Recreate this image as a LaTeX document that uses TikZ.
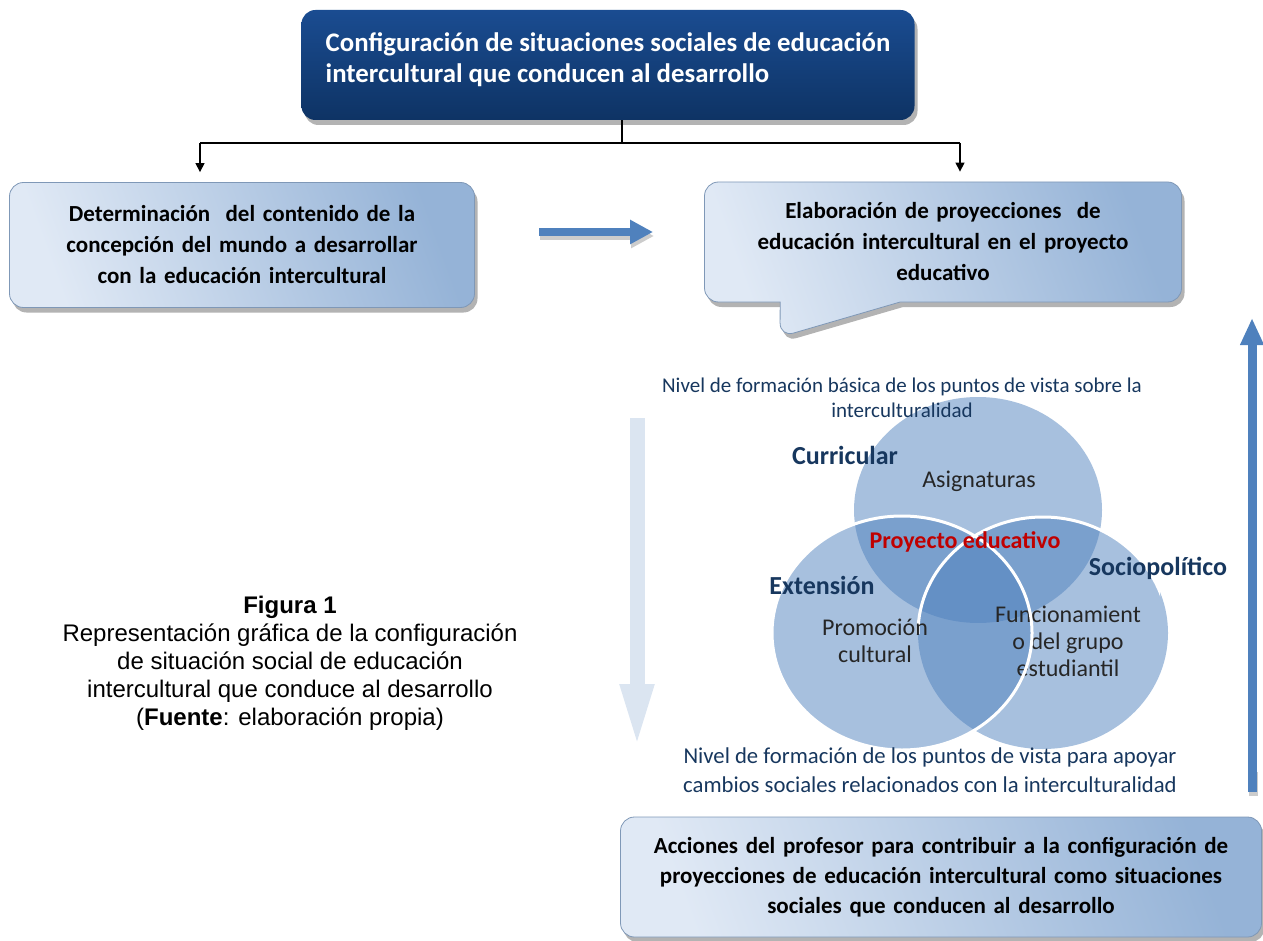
\documentclass[tikz,border=0pt]{standalone}
\usepackage{fontspec}
\setmainfont{Carlito}
\newfontfamily\arialfont{Liberation Sans}
\usetikzlibrary{arrows.meta,shapes.callouts,shadows}

\definecolor{navytext}{RGB}{23,55,94}
\definecolor{accent}{RGB}{79,129,189}
\definecolor{paleblue}{RGB}{224,233,245}
\definecolor{midblue}{RGB}{149,179,215}
\definecolor{deepblue}{RGB}{26,76,145}
\definecolor{darkblue}{RGB}{14,51,100}
\definecolor{fadedblue}{RGB}{219,229,241}
\definecolor{projred}{RGB}{192,0,0}
\definecolor{inktext}{RGB}{38,38,38}

\tikzset{
  boxshadow/.style={drop shadow={shadow xshift=3pt, shadow yshift=-5pt, fill=black!40, opacity=0.75}},
  darkbox/.style={rounded corners=14pt, top color=deepblue, bottom color=darkblue, text=white,
    boxshadow, font=\bfseries\fontsize{26.8}{31}\selectfont, align=left},
  lightbox/.style={rounded corners=14pt, draw=midblue!85!black, line width=0.8pt,
    top color=midblue, bottom color=paleblue, shading angle=-70,
    boxshadow, font=\bfseries\fontsize{23}{31}\selectfont, align=center},
  link/.style={line width=1.3pt, black},
  venncircle/.style={fill=accent, fill opacity=0.5},
  vennedge/.style={white, line width=3pt},
  venntitle/.style={text=navytext, font=\bfseries\fontsize{26}{30}\selectfont},
  venntxt/.style={text=inktext, font=\fontsize{24}{27}\selectfont, align=center},
  leveltxt/.style={text=navytext, font=\fontsize{21}{25}\selectfont, align=center},
}

\begin{document}
\begin{tikzpicture}[x=1pt, y=-1pt]
\useasboundingbox (0,0) rectangle (1263,941);

% boxes
\node[darkbox, minimum width=613pt, minimum height=110pt] (conf) at (608,65)
  {Configuración de situaciones sociales de educación\\intercultural que conducen al desarrollo\\[-16pt]\mbox{}};
\node[lightbox, minimum width=465pt, minimum height=125pt, text width=440pt] (det) at (242,245)
  {Determinación\ \ del contenido de la\\concepción del mundo a desarrollar\\con la educación intercultural};
\node[lightbox, rectangle callout, callout absolute pointer={(780,337)}, callout pointer width=120pt,
  minimum width=477pt, minimum height=120pt, text width=450pt] (elab) at (943,242)
  {Elaboración de proyecciones\ \ de\\educación intercultural en el proyecto\\educativo};
\node[lightbox, minimum width=641pt, minimum height=120pt, text width=615pt,
  font=\bfseries\fontsize{23}{30}\selectfont] (acc) at (941,877)
  {Acciones del profesor para contribuir a la configuración de\\proyecciones de educación intercultural como situaciones\\sociales que conducen al desarrollo};

% tree connector
\coordinate (split) at (622,143);
\coordinate (ldrop) at (200,143);
\coordinate (rdrop) at (960,143);
\draw[link] (conf.south -| split) -- (split);
\draw[link] (ldrop) -- (rdrop);
\draw[link, -{Triangle[width=9pt,length=9pt]}, shorten >=10pt] (ldrop) -- (ldrop |- det.north);
\draw[link, -{Triangle[width=9pt,length=9pt]}, shorten >=10pt] (rdrop) -- (rdrop |- elab.north);

% block arrows
\coordinate (fwdstart) at (539,232);
\coordinate (fwdend) at (653,232);
\draw[line width=8pt, black!20, -{Triangle[width=23pt,length=23pt]}] ([shift={(1,4)}]fwdstart) -- ([shift={(1,4)}]fwdend);
\draw[line width=8pt, accent, -{Triangle[width=23pt,length=23pt]}] (fwdstart) -- (fwdend);

\coordinate (downstart) at (637,418);
\coordinate (downend) at (637,750);
\draw[line width=15pt, fadedblue, -{Triangle[width=30pt,length=66pt]}] (downstart) -- (downend);

\coordinate (upstart) at (1252,792);
\coordinate (upend) at (1252,318);
\draw[line width=9pt, black!20] ([shift={(1,4)}]upstart) -- ([shift={(1,-20)}]upstart);
\draw[line width=9pt, accent, -{Triangle[width=22pt,length=27pt]}] (upstart) -- (upend);

% venn
\fill[venncircle] (978,510) ellipse [x radius=124pt, y radius=113pt];
\fill[venncircle] (1043,633) ellipse [x radius=125pt, y radius=116pt];
\fill[venncircle] (902,633) ellipse [x radius=130pt, y radius=117pt];
\node[venntxt] (func) at (1068,641) {Funcionamient\\o del grupo\\estudiantil};
\draw[vennedge] (902,633) ellipse [x radius=130pt, y radius=117pt];
\begin{scope}
\clip (900,380) rectangle (1160,633);
\draw[vennedge] (1043,633) ellipse [x radius=125pt, y radius=116pt];
\end{scope}

\node[leveltxt] (lvltop) at (902,398) {Nivel de formación básica de los puntos de vista sobre la\\interculturalidad};
\node[venntitle] (curr) at (845,455) {Curricular};
\node[venntxt] (asig) at (979,481) {Asignaturas};
\node[text=projred, font=\bfseries\fontsize{24}{28}\selectfont] (proj) at (965,542) {Proyecto educativo};
\node[venntitle] (ext) at (822,585) {Extensión};
\node[venntitle] (socio) at (1158,568) {Sociopolítico};
\node[venntxt] (promo) at (875,641) {Promoción\\cultural};
\node[leveltxt, font=\fontsize{22.7}{29}\selectfont] (lvlbot) at (930,770) {Nivel de formación de los puntos de vista para apoyar\\cambios sociales relacionados con la interculturalidad};

% caption
\node[font=\arialfont\fontsize{24}{28}\selectfont, align=center] (cap) at (290,663)
  {\textbf{Figura 1}\\Representación gráfica de la configuración\\de situación social de educación\\intercultural que conduce al desarrollo\\(\textbf{Fuente}: elaboración propia)};
\end{tikzpicture}
\end{document}
